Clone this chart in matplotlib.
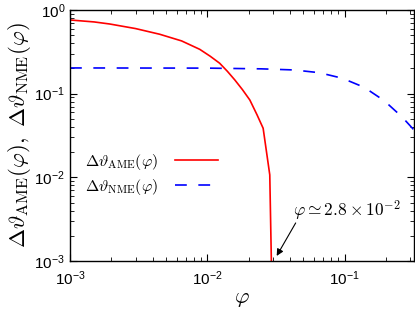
import math
import matplotlib
matplotlib.use("Agg")
import matplotlib.pyplot as plt
from matplotlib.ticker import FuncFormatter, NullFormatter

plt.rcParams['font.family'] = ['Liberation Sans', 'DejaVu Sans']
plt.rcParams['mathtext.fontset'] = 'cm'
plt.rcParams['lines.scale_dashes'] = False

# data
phi_ame = [1e-3, 1.5e-3, 1.95e-3, 3e-3, 4.5e-3, 6.5e-3, 8.8e-3, 1.05e-2, 1.23e-2,
           1.4e-2, 1.585e-2, 1.8e-2, 2.04e-2, 2.3e-2, 2.55e-2, 2.85e-2, 2.93e-2]
ame = [0.76, 0.72, 0.68, 0.60, 0.513, 0.427, 0.339, 0.28, 0.231,
       0.185, 0.146, 0.112, 0.084, 0.056, 0.0386, 0.0107, 9e-4]

phi_nme = [1e-3, 1e-2, 2.48e-2, 4.3e-2, 6.55e-2, 9.6e-2, 0.139, 0.194, 0.262, 0.32]
nme = [0.203, 0.202, 0.198, 0.192, 0.178, 0.153, 0.119, 0.0825, 0.0527, 0.0368]

fig = plt.figure(figsize=(4.15, 3.10), dpi=100)
ax = fig.add_axes([70/415, 1-261/310, (414-70)/415, (261-10)/310])

ax.plot(phi_ame, ame, color='#ff0000', lw=1.2,
        label=r'$\Delta\vartheta_{\mathrm{AME}}(\varphi)$')
ax.plot(phi_nme, nme, color='#0000ff', lw=1.2, dashes=(8.5, 8.3),
        label=r'$\Delta\vartheta_{\mathrm{NME}}(\varphi)$')

ax.set_xscale('log')
ax.set_yscale('log')
ax.set_xlim(1e-3, 0.32)
ax.set_ylim(1e-3, 1)

def fmt(v, pos):
    e = int(round(math.log10(v)))
    return r'$\mathregular{10^{%d}}$' % e

ax.xaxis.set_major_formatter(FuncFormatter(fmt))
ax.yaxis.set_major_formatter(FuncFormatter(fmt))
ax.xaxis.set_minor_formatter(NullFormatter())
ax.yaxis.set_minor_formatter(NullFormatter())
ax.tick_params(which='both', direction='in', top=True, right=True, labelsize=11)
ax.tick_params(which='major', length=5, width=0.8)
ax.tick_params(which='minor', length=3, width=0.6)
ax.tick_params(axis='x', pad=6)
for s in ax.spines.values():
    s.set_linewidth(1.0)

ax.set_xlabel(r'$\varphi$', fontsize=16, labelpad=0)
ax.set_ylabel(r'$\Delta\vartheta_{\mathrm{AME}}(\varphi),\ \Delta\vartheta_{\mathrm{NME}}(\varphi)$',
              fontsize=16.5, labelpad=1)

leg = ax.legend(loc='center left', bbox_to_anchor=(0.044, 0.345), frameon=False,
                markerfirst=False, fontsize=11.5, handlelength=2.7,
                handletextpad=1.05, labelspacing=0.3, borderpad=0,
                borderaxespad=0)

ax.text(0.0419, 3.45e-3, r'$\varphi \simeq 2.8\times10^{-2}$', fontsize=12.5,
        ha='left', va='baseline')
ax.annotate('', xy=(0.032, 1.15e-3), xytext=(0.0440, 2.85e-3),
            arrowprops=dict(arrowstyle='-|>', color='black', lw=0.8,
                            mutation_scale=10, shrinkA=0, shrinkB=0))

fig.savefig('out.png', dpi=100)
